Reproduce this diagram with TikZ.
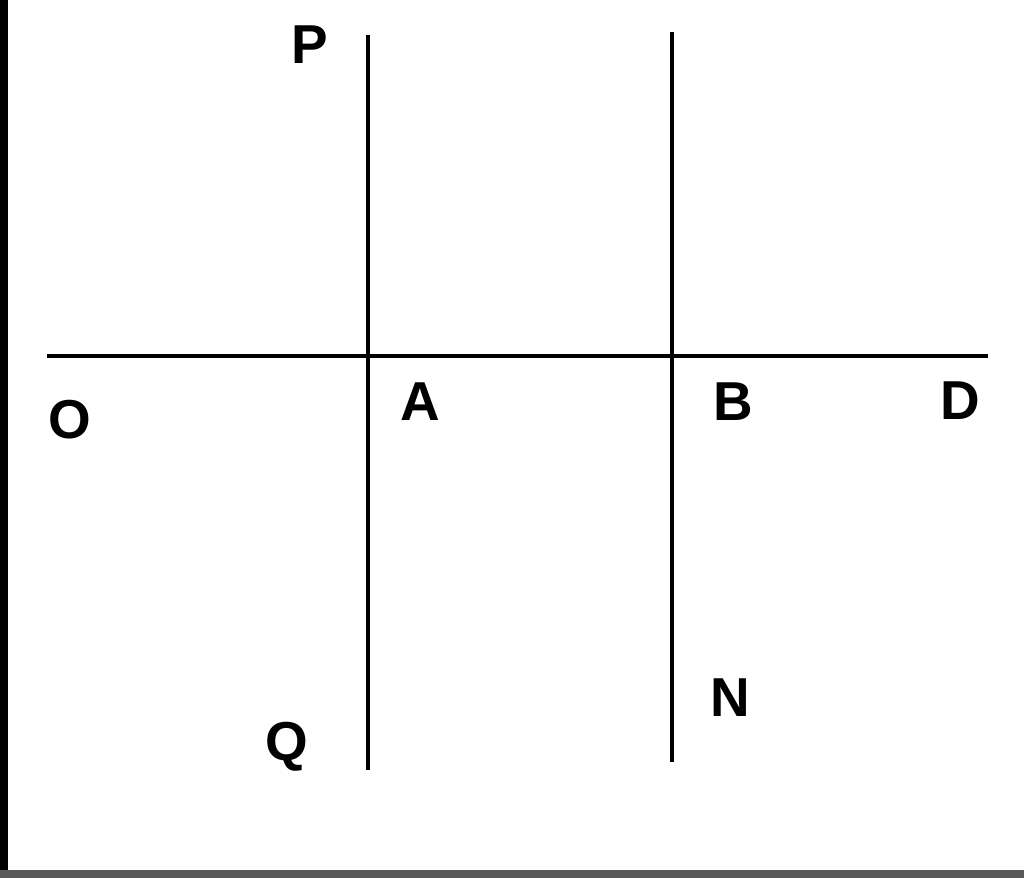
\documentclass[tikz,border=0pt]{standalone}
\usepackage{fontspec}
\setmainfont{Liberation Sans}

\tikzset{lbl/.style={font=\fontsize{39}{44}\selectfont\bfseries, inner sep=0pt},
  ln/.style={line width=2.9pt}}

\begin{document}
\begin{tikzpicture}[x=0.025cm, y=-0.025cm]
  \useasboundingbox (0,0) rectangle (1024,878);
  \fill[black] (0,0) rectangle (8,878);
  \fill[black!65] (0,870) rectangle (1024,878);
  \coordinate (o) at (47,356);
  \coordinate (d) at (988,356);
  \coordinate (p) at (368,35);
  \coordinate (q) at (368,770);
  \coordinate (b1) at (672,32);
  \coordinate (n) at (672,762);
  \draw[ln] (o)--(d);
  \draw[ln] (p)--(q);
  \draw[ln] (b1)--(n);
  \node[lbl] (P) at (310,45) {P};
  \node[lbl] (O) at (70,420) {O};
  \node[lbl] (A) at (420,402) {A};
  \node[lbl] (B) at (733,402) {B};
  \node[lbl] (D) at (960,401) {D};
  \node[lbl] (N) at (730,698) {N};
  \node[lbl] (Q) at (287,747) {Q};
\end{tikzpicture}
\end{document}
